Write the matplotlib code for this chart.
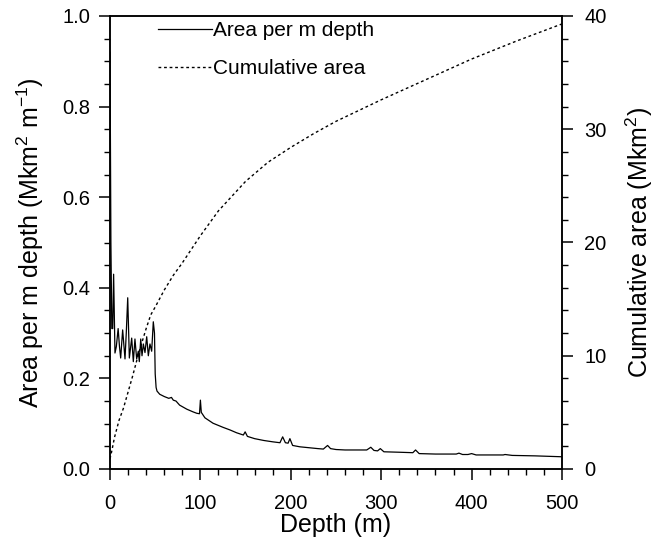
"""
Hypsometry-style plot: area per metre of depth and cumulative area vs depth.
"""

import matplotlib.pyplot as plt
from matplotlib.ticker import MultipleLocator, FormatStrFormatter

plt.rcParams["font.family"] = ["Liberation Sans", "DejaVu Sans"]
plt.rcParams["mathtext.fontset"] = "custom"
plt.rcParams["mathtext.rm"] = "Liberation Sans"

# area per m depth (Mkm^2 m^-1)
depth = [0, 1, 2, 3, 4, 5.5, 7, 9, 10.5, 11.8, 14, 16.6, 18, 19.6, 21.4, 24,
         25.8, 27.6, 29.5, 31.3, 32.4, 34, 35.4, 36.9, 38.7, 40.6, 42.4, 44.2,
         46.1, 47.9, 49.2, 50, 51, 52, 55, 60, 65, 68, 70, 73, 77, 85, 92, 96,
         99, 100, 101, 105, 114, 125, 133, 140, 147.5, 149.5, 152, 160, 170,
         180, 188, 191, 194, 197, 199, 202, 210, 220, 230, 236, 240.7, 244, 250,
         260, 270, 284, 288.5, 292, 296, 299, 303, 320, 335, 338, 342, 360, 383,
         386, 390, 396, 400, 405, 420, 435, 437, 445, 470, 500]
area = [0.92, 0.50, 0.31, 0.31, 0.43, 0.256, 0.27, 0.31, 0.27, 0.245, 0.307,
        0.243, 0.30, 0.378, 0.245, 0.289, 0.237, 0.287, 0.243, 0.26, 0.237,
        0.287, 0.25, 0.276, 0.257, 0.292, 0.25, 0.276, 0.26, 0.325, 0.30,
        0.21, 0.18, 0.172, 0.165, 0.160, 0.156, 0.158, 0.152, 0.150, 0.141,
        0.132, 0.126, 0.123, 0.122, 0.152, 0.125, 0.113, 0.101, 0.092, 0.086,
        0.080, 0.075, 0.082, 0.072, 0.067, 0.063, 0.060, 0.058, 0.071, 0.058,
        0.057, 0.067, 0.052, 0.049, 0.047, 0.045, 0.044, 0.052, 0.045, 0.043,
        0.042, 0.042, 0.042, 0.048, 0.041, 0.040, 0.045, 0.038, 0.037, 0.036,
        0.042, 0.034, 0.033, 0.033, 0.035, 0.032, 0.032, 0.034, 0.031, 0.031,
        0.031, 0.032, 0.030, 0.029, 0.027]

# cumulative area (Mkm^2)
cum_depth = [0, 2, 5, 10, 15, 20, 25, 30, 35, 40, 45, 50, 60, 70, 80, 100, 120,
             150, 175, 200, 225, 250, 300, 350, 400, 450, 500]
cum_area = [0.9, 1.6, 2.8, 4.3, 5.4, 6.8, 8.2, 9.7, 11.1, 12.4, 13.6, 14.3,
            15.8, 17.1, 18.2, 20.6, 22.8, 25.4, 27.1, 28.4, 29.6, 30.7, 32.6,
            34.4, 36.2, 37.8, 39.3]

fig = plt.figure(figsize=(6.61, 5.53), dpi=100)
ax = fig.add_axes([110 / 661, 1 - 469 / 553, 452 / 661, 453 / 553])
ax2 = ax.twinx()

l1, = ax.plot(depth, area, color="black", lw=0.9)
l2, = ax2.plot(cum_depth, cum_area, color="black", lw=1.0,
               linestyle=(0, (2, 2)))

ax.set_xlim(0, 500)
ax.set_ylim(0, 1.0)
ax2.set_ylim(0, 40)

ax.xaxis.set_major_locator(MultipleLocator(100))
ax.xaxis.set_minor_locator(MultipleLocator(20))
ax.yaxis.set_major_locator(MultipleLocator(0.2))
ax.yaxis.set_minor_locator(MultipleLocator(0.05))
ax.yaxis.set_major_formatter(FormatStrFormatter("%.1f"))
ax2.yaxis.set_major_locator(MultipleLocator(10))
ax2.yaxis.set_minor_locator(MultipleLocator(2))

for a in (ax, ax2):
    a.tick_params(which="major", direction="out", length=8, width=1.1,
                  labelsize=14.5, pad=6)
    a.tick_params(which="minor", direction="out", length=4, width=1.0)
    for spine in a.spines.values():
        spine.set_linewidth(1.1)
ax.tick_params(axis="x", pad=10)
ax2.tick_params(axis="y", pad=8)

ax.set_xlabel("Depth (m)", fontsize=18, labelpad=0)
ax.set_ylabel(r"Area per m depth (Mkm$^{\mathrm{2}}$ m$^{\mathrm{-1}}$)",
              fontsize=18, labelpad=12)
ax2.set_ylabel(r"Cumulative area (Mkm$^{\mathrm{2}}$)", fontsize=18,
               labelpad=12)

ax.legend([l1, l2], ["Area per m depth", "Cumulative area"],
          loc="upper left", bbox_to_anchor=(0.065, 1.03), frameon=False,
          fontsize=15, handlelength=2.6, handletextpad=0.05, labelspacing=0.9)

fig.savefig("out.png", dpi=100)
